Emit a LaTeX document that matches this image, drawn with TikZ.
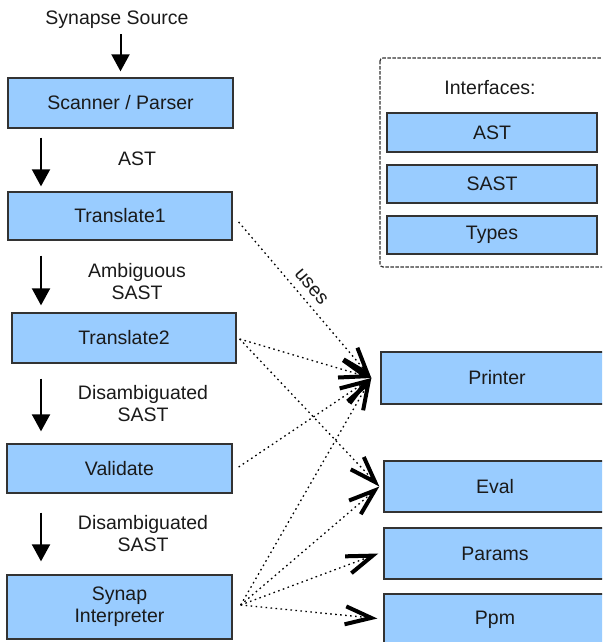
\documentclass[tikz,border=0pt]{standalone}
\usepackage{fontspec}
\setmainfont{Liberation Sans}
\usetikzlibrary{arrows.meta,calc}
\definecolor{boxblue}{HTML}{99CCFF}
\definecolor{edgegray}{HTML}{333333}
\definecolor{inkgray}{HTML}{1A1A1A}
\begin{document}
\begin{tikzpicture}[x=1pt,y=-1pt,
  font=\fontsize{19.5}{22}\selectfont, text=inkgray,
  stage/.style={draw=edgegray, line width=1.3pt, fill=boxblue, minimum height=50pt,
                inner sep=0pt, align=center},
  flow/.style={line width=2pt, -{Triangle[length=17pt,width=18pt]}},
  usesline/.style={line width=1.3pt, dash pattern=on 1.6pt off 3.4pt,
                   -{Straight Barb[length=26pt,width=18pt,line width=4pt 0]}},
  lbl/.style={align=center, inner sep=0pt}]
\useasboundingbox (0,0) rectangle (602,642);
\clip (0,0) rectangle (602,642);

% pipeline stages
\node[lbl] (src) at (117,20) {Synapse Source};
\node[stage, minimum width=225pt] (scan) at (120.5,103) {Scanner / Parser};
\node[stage, minimum width=224pt, minimum height=48pt] (t1) at (120,216) {Translate1};
\node[stage, minimum width=224pt] (t2) at (124,338) {Translate2};
\node[stage, minimum width=225pt, minimum height=49pt] (val) at (119.5,468.5) {Validate};
\node[stage, minimum width=225pt, minimum height=64pt] (synap) at (119.5,607) {Synap\\Interpreter};

% data passed between stages
\node[lbl] (l1) at (137,159) {AST};
\node[lbl] (l2) at (137,282) {Ambiguous\\SAST};
\node[lbl] (l3) at (143,404) {Disambiguated\\SAST};
\node[lbl] (l4) at (143,534) {Disambiguated\\SAST};

\coordinate (lane) at (41,0);
\draw[flow, shorten <=5pt, shorten >=6pt] (src.south -| scan.north) -- (scan.north);
\draw[flow, shorten <=9pt, shorten >=5pt] (lane |- scan.south) -- (lane |- t1.north);
\draw[flow, shorten <=15pt, shorten >=7pt] (lane |- t1.south) -- (lane |- t2.north);
\draw[flow, shorten <=15pt, shorten >=12pt] (lane |- t2.south) -- (lane |- val.north);
\draw[flow, shorten <=19pt, shorten >=13pt] (lane |- val.south) -- (lane |- synap.north);

% interfaces
\draw[edgegray, line width=1.2pt, dash pattern=on 3.5pt off 1.5pt, rounded corners=3pt]
  (380,58) rectangle (620,267);
\node[lbl] (ifc) at (490,88) {Interfaces:};
\node[stage, minimum width=210pt, minimum height=39pt] (iast) at (492,132.5) {AST};
\node[stage, minimum width=210pt, minimum height=38pt] (isast) at (492,184) {SAST};
\node[stage, minimum width=210pt, minimum height=38pt] (itypes) at (492,235) {Types};

% back ends
\node[stage, minimum width=232pt, minimum height=52pt] (printer) at (497,378) {Printer};
\node[stage, minimum width=222pt, minimum height=51pt] (eval) at (495,486.5) {Eval};
\node[stage, minimum width=222pt, minimum height=51pt] (params) at (495,553.5) {Params};
\node[stage, minimum width=222pt, minimum height=51pt] (ppm) at (495,619.5) {Ppm};

% "uses" dependencies
\coordinate (t1o) at ($(t1.east)+(6,6)$);
\coordinate (t2o) at ($(t2.east)+(3,1)$);
\coordinate (valo) at ($(val.east)+(6,-1.5)$);
\coordinate (syno) at ($(synap.east)+(8,-2)$);
\coordinate (pin) at ($(printer.west)+(-9,0)$);
\coordinate (ein) at ($(eval.west)+(-4,0)$);
\coordinate (parin) at ($(params.west)+(-5,0)$);
\coordinate (ppmin) at ($(ppm.west)+(-6,-1)$);

\draw[usesline] (t1o) -- node[sloped, above=4pt, pos=0.47, text=inkgray] {uses} (pin);
\draw[usesline] (t2o) -- (pin);
\draw[usesline] (t2o) -- (ein);
\draw[usesline] (valo) -- (pin);
\draw[usesline] (syno) -- (pin);
\draw[usesline] (syno) -- (ein);
\draw[usesline] (syno) -- (parin);
\draw[usesline] (syno) -- (ppmin);
\end{tikzpicture}
\end{document}
